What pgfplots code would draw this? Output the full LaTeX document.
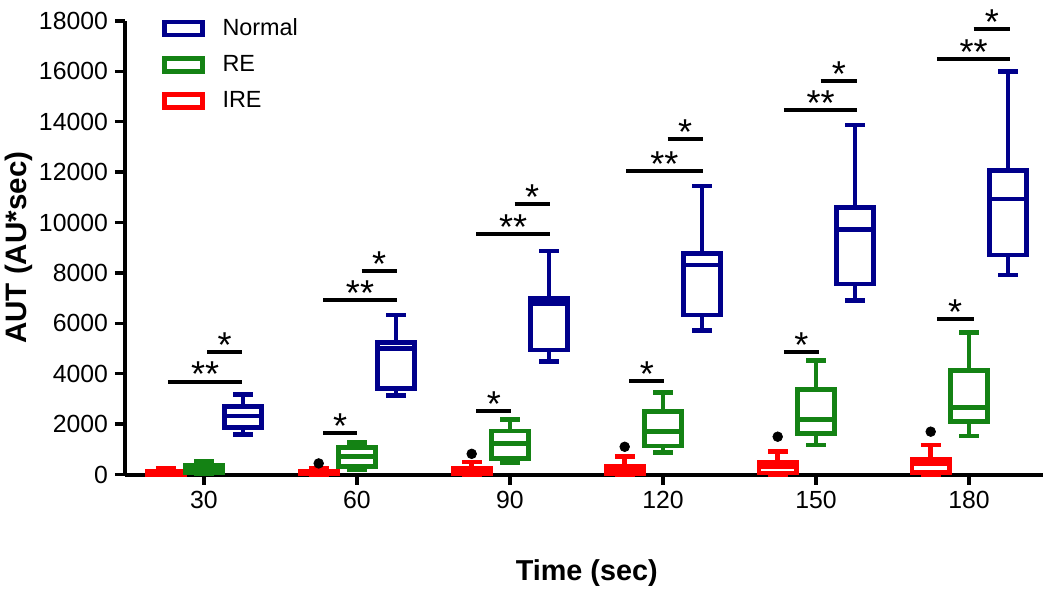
\documentclass[border=0pt]{standalone}
\usepackage{fontspec}
\setmainfont{Liberation Sans}
\usepackage{pgfplots}
\pgfplotsset{compat=1.18}
\usepgfplotslibrary{statistics}
\definecolor{nblue}{RGB}{0,0,139}
\definecolor{regreen}{RGB}{20,130,20}
\definecolor{irered}{RGB}{255,0,0}
\newcommand{\starfont}{\fontsize{18}{18}\selectfont}
% box without outliers: color, position, lw, q1, med, q3, uw
\newcommand{\bx}[7]{\addplot[#1, line width=2.4pt, solid, forget plot, boxplot prepared={draw position=#2, lower whisker=#3, lower quartile=#4, median=#5, upper quartile=#6, upper whisker=#7}] coordinates {};}
% box with one outlier
\newcommand{\bxo}[8]{\addplot[#1, line width=2.4pt, solid, forget plot, mark=*, mark size=2.4pt, mark options={black, fill=black, line width=0.4pt}, boxplot prepared={draw position=#2, lower whisker=#3, lower quartile=#4, median=#5, upper quartile=#6, upper whisker=#7}] coordinates {(#2,#8)};}
% significance bar: x1, x2, y, xmid, text
\newcommand{\sig}[5]{\addplot[black, line width=2pt, forget plot] coordinates {(#1,#3) (#2,#3)};
\node[font=\starfont, anchor=base, yshift=-2.6pt, inner sep=0pt] at (axis cs:#4,#3) {#5};}
\newcommand{\legbox}[1]{\draw[#1,line width=2.4pt] (0pt,-3.25pt) rectangle (19pt,3.25pt); \path[draw=none,fill=none] (0pt,0pt) -- (27pt,0pt);}
\begin{document}
\begin{tikzpicture}
\begin{axis}[
  scale only axis, width=459pt, height=226.8pt,
  xmin=-0.516, xmax=5.484, ymin=0, ymax=18000,
  clip=false,
  axis x line*=bottom, axis y line*=left,
  axis line style={line width=2pt, -},
  tick align=outside, major tick length=5pt,
  tick style={line width=1.7pt, black},
  xtick={0,1,2,3,4,5}, xticklabels={30,60,90,120,150,180},
  ytick={0,2000,4000,6000,8000,10000,12000,14000,16000,18000},
  minor tick num=0,
  /pgf/number format/assume math mode=true,
  /pgf/number format/set thousands separator={},
  scaled y ticks=false,
  tick label style={font=\fontsize{12.4}{14}\selectfont},
  xlabel={Time (sec)}, ylabel={AUT (AU*sec)},
  xlabel style={font=\fontsize{14.4}{16}\selectfont\bfseries, at={(axis description cs:0.503,-0.217)}, anchor=center},
  ylabel style={font=\fontsize{14.8}{16}\selectfont\bfseries, at={(axis description cs:-0.1155,0.5)}, anchor=center},
  boxplot/draw direction=y,
  boxplot/box extend=0.245, boxplot/whisker extend=0.13,
  legend style={draw=none, fill=none, at={(axis description cs:0.04,1.015)}, anchor=north west,
    font=\fontsize{11.7}{13.5}\selectfont, row sep=4.5pt, inner sep=0pt},
  legend cell align=left,
]
\addlegendimage{legend image code/.code={\legbox{nblue}}}
\addlegendentry{Normal}
\addlegendimage{legend image code/.code={\legbox{regreen}}}
\addlegendentry{RE}
\addlegendimage{legend image code/.code={\legbox{irered}}}
\addlegendentry{IRE}

% IRE (red)
\bx{irered}{-0.25}{0}{10}{60}{130}{260}
\bxo{irered}{0.75}{0}{20}{80}{120}{250}{440}
\bxo{irered}{1.75}{0}{30}{120}{250}{500}{820}
\bxo{irered}{2.75}{0}{40}{150}{340}{700}{1100}
\bxo{irered}{3.75}{0}{60}{300}{470}{900}{1500}
\bxo{irered}{4.75}{0}{70}{420}{610}{1170}{1700}
% RE (green)
\bx{regreen}{0}{30}{60}{200}{370}{520}
\bx{regreen}{1}{180}{310}{710}{1064}{1280}
\bx{regreen}{2}{468}{643}{1238}{1726}{2190}
\bx{regreen}{3}{870}{1130}{1699}{2493}{3250}
\bx{regreen}{4}{1171}{1635}{2190}{3381}{4516}
\bx{regreen}{5}{1528}{2095}{2666}{4119}{5642}
% Normal (blue)
\bx{nblue}{0.255}{1590}{1860}{2320}{2710}{3180}
\bx{nblue}{1.255}{3130}{3420}{5000}{5250}{6330}
\bx{nblue}{2.255}{4480}{4940}{6790}{6990}{8870}
\bx{nblue}{3.255}{5730}{6330}{8310}{8780}{11450}
\bx{nblue}{4.255}{6920}{7560}{9730}{10600}{13870}
\bx{nblue}{5.255}{7920}{8710}{10930}{12060}{15980}

% significance bars
\sig{-0.235}{0.25}{3683}{0.0075}{**}
\sig{0.02}{0.25}{4849}{0.135}{*}
\sig{0.78}{1.26}{6912}{1.02}{**}
\sig{1.03}{1.26}{8075}{1.145}{*}
\sig{0.78}{1.0}{1640}{0.89}{*}
\sig{1.78}{2.26}{9543}{2.02}{**}
\sig{2.03}{2.26}{10733}{2.145}{*}
\sig{1.78}{2.01}{2520}{1.895}{*}
\sig{2.76}{3.26}{12043}{3.01}{**}
\sig{3.03}{3.26}{13313}{3.145}{*}
\sig{2.78}{3.01}{3710}{2.895}{*}
\sig{3.79}{4.27}{14463}{4.03}{**}
\sig{4.03}{4.27}{15614}{4.15}{*}
\sig{3.79}{4.02}{4849}{3.905}{*}
\sig{4.79}{5.27}{16487}{5.03}{**}
\sig{5.03}{5.27}{17665}{5.15}{*}
\sig{4.79}{5.03}{6170}{4.91}{*}
\end{axis}
\pgfresetboundingbox
\path[use as bounding box] (-62.5pt,-60.25pt) rectangle (462.5pt,237.25pt);
\end{tikzpicture}
\end{document}
